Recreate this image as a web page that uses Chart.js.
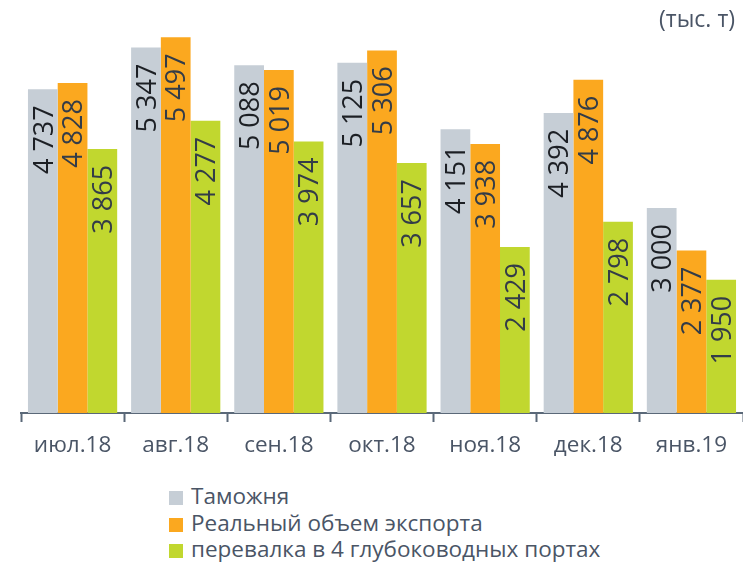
<!DOCTYPE html>
<html>
<head>
<meta charset="utf-8">
<script src="https://cdn.jsdelivr.net/npm/chart.js@4/dist/chart.umd.min.js"></script>
<style>
  body { margin: 0; background: #fff; font-family: "Open Sans", sans-serif; }
  #wrap { position: relative; width: 743px; height: 570px; }
  #unit { position: absolute; right: 8px; top: 2px; font-size: 23px; color: #4a5566; }
  #legend { position: absolute; left: 169px; top: 483px; font-size: 22.5px; color: #4a5566; }
  .item { height: 26.5px; line-height: 26.5px; white-space: nowrap; }
  .box { display: inline-block; width: 14px; height: 14px; margin-right: 8px; vertical-align: -1px; }
</style>
</head>
<body>
<div id="wrap">
  <canvas id="chart" width="743" height="470"></canvas>
  <div id="unit">(тыс. т)</div>
  <div id="legend"></div>
</div>
<script>
// Data
const months = ['июл.18', 'авг.18', 'сен.18', 'окт.18', 'ноя.18', 'дек.18', 'янв.19'];
const customs = [4737, 5347, 5088, 5125, 4151, 4392, 3000];
const realExport = [4828, 5497, 5019, 5306, 3938, 4876, 2377];
const deepPorts = [3865, 4277, 3974, 3657, 2429, 2798, 1950];
const seriesNames = ['Таможня', 'Реальный объем экспорта', 'перевалка в 4 глубоководных портах'];
const seriesColors = ['#c6ced6', '#fba81f', '#c1d72f'];
const labelColors = ['#1c1f24', '#333c48', '#333c48'];

// Format numbers like "4 737"
function fmt(v) {
    return String(v).replace(/\B(?=(\d{3})+(?!\d))/g, ' ');
}

// Vertical value labels inside the top of each bar
const barLabels = {
    id: 'barLabels',
    afterDatasetsDraw(chart) {
        const ctx = chart.ctx;
        ctx.save();
        ctx.font = '27px "Open Sans"';
        ctx.textAlign = 'right';
        ctx.textBaseline = 'middle';
        chart.data.datasets.forEach((ds, i) => {
            ctx.fillStyle = labelColors[i];
            chart.getDatasetMeta(i).data.forEach((bar, j) => {
                ctx.save();
                ctx.translate(bar.x + 2, bar.y + 16);
                ctx.rotate(-Math.PI / 2);
                ctx.fillText(fmt(ds.data[j]), 0, 0);
                ctx.restore();
            });
        });
        ctx.restore();
    }
};

const ctx = document.getElementById('chart').getContext('2d');
new Chart(ctx, {
    type: 'bar',
    data: {
        labels: months,
        datasets: [customs, realExport, deepPorts].map((d, i) => ({
            label: seriesNames[i],
            data: d,
            backgroundColor: seriesColors[i],
            borderWidth: 0,
            categoryPercentage: 0.865,
            barPercentage: 1.0
        }))
    },
    options: {
        responsive: false,
        animation: false,
        layout: { padding: { left: 21, right: 0, top: 3, bottom: 0 } },
        plugins: {
            legend: { display: false },
            tooltip: { enabled: false }
        },
        scales: {
            x: {
                grid: {
                    drawOnChartArea: false,
                    tickLength: 9,
                    tickColor: '#5a6878',
                    tickWidth: 2
                },
                border: { color: '#5a6878', width: 2 },
                ticks: {
                    color: '#4a5566',
                    font: { family: 'Open Sans', size: 22.5 },
                    padding: 10
                },
                afterFit(scale) { scale.height = 57; }
            },
            y: {
                display: false,
                min: 0,
                max: 6000
            }
        }
    },
    plugins: [barLabels]
});

// HTML legend, one item per line
const legend = document.getElementById('legend');
seriesNames.forEach((name, i) => {
    const item = document.createElement('div');
    item.className = 'item';
    item.innerHTML = `<span class="box" style="background:${seriesColors[i]}"></span>${name}`;
    legend.appendChild(item);
});
</script>
</body>
</html>
